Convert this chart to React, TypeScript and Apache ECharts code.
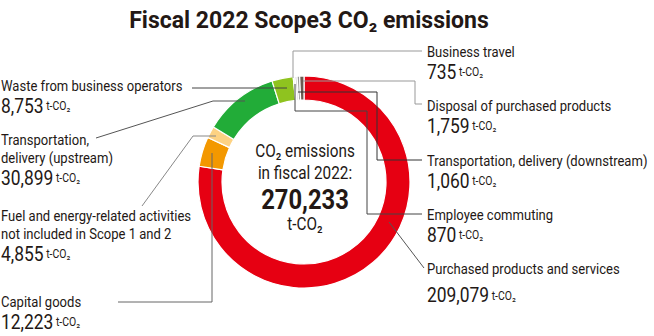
import React, { useEffect, useRef } from "react";
import * as echarts from "echarts";

const titleText = "Fiscal 2022 Scope3 CO₂ emissions";
const unitText = "t-CO₂";
const categories = [
  "Purchased products and services",
  "Capital goods",
  "Fuel and energy-related activities\nnot included in Scope 1 and 2",
  "Transportation,\ndelivery (upstream)",
  "Waste from business operators",
  "Business travel",
  "Employee commuting",
  "Transportation, delivery (downstream)",
  "Disposal of purchased products",
];
const values = [209079, 12223, 4855, 30899, 8753, 735, 870, 1060, 1759];
const colors = ["#e60012", "#f39800", "#fdd283", "#22ac38", "#8fc31f", "#eeeeee", "#d0d0d0", "#9a9a9a", "#6b5a50"];
const centerLines = ["CO₂ emissions", "in fiscal 2022:"];

// label top-left positions (layout)
const labelPos: [number, number][] = [
  [427, 260],
  [1, 293],
  [1, 207],
  [1, 131],
  [1, 77],
  [427, 43],
  [427, 206],
  [427, 152],
  [427, 97],
];
const connectors: { pts: number[][]; c: string }[] = [
  { pts: [[389, 222], [424, 268]], c: "#555" },
  { pts: [[118, 302], [212, 302], [212, 153]], c: "#666" },
  { pts: [[142, 206], [193, 136], [216, 136]], c: "#888" },
  { pts: [[96, 138], [213, 101], [245, 101]], c: "#555" },
  { pts: [[192, 88], [287, 88]], c: "#444" },
  { pts: [[422, 51], [293, 51], [293, 78]], c: "#999" },
  { pts: [[295, 84], [295, 111], [367, 111], [367, 214], [422, 214]], c: "#444" },
  { pts: [[298, 92], [377, 92], [377, 160], [422, 160]], c: "#333" },
  { pts: [[303, 81], [415, 81], [415, 104], [422, 104]], c: "#999" },
];

const FONT = "Roboto, sans-serif";
const TXT = "#231815";
const SX = 0.87;

export default function App() {
  const ref = useRef<HTMLDivElement>(null);
  useEffect(() => {
    document.body.style.margin = "0";
    const chart = echarts.init(ref.current!, null, { renderer: "svg" });
    const total = values.reduce((a, b) => a + b, 0);
    const fmt = (v: number) => v.toLocaleString("en-US");
    const rich = {
      n: { fontFamily: FONT, fontSize: 15, lineHeight: 18, fill: TXT, color: TXT },
      v: { fontFamily: FONT, fontSize: 20, lineHeight: 23, fill: TXT, color: TXT },
      v2: { fontFamily: FONT, fontSize: 20, lineHeight: 36, fill: TXT, color: TXT },
      u: { fontFamily: FONT, fontSize: 12, fill: TXT, color: TXT },
    };
    chart.setOption({
      animation: false,
      title: {
        text: titleText,
        left: 304,
        textAlign: "center",
        top: 4,
        textStyle: { fontFamily: FONT, fontSize: 23, fontWeight: "bold", color: TXT },
      },
      series: [
        {
          type: "pie",
          center: [304, 182],
          radius: [82, 106],
          startAngle: 90,
          clockwise: true,
          avoidLabelOverlap: false,
          itemStyle: { borderColor: "#fff", borderWidth: 1.2 },
          data: categories.map((n, i) => ({ name: n, value: values[i], itemStyle: { color: colors[i] } })),
          label: { show: false },
          labelLine: { show: false },
        },
      ],
      graphic: [
        ...connectors.map((c) => ({
          type: "polyline",
          z: 100,
          shape: { points: c.pts },
          style: { stroke: c.c, lineWidth: 1, fill: null },
        })),
        ...categories.map((name, i) => {
          const lines = name.split("\n").map((l) => `{n|${l}}`).join("\n");
          const vs = i === 0 ? "v2" : "v";
          return {
            type: "text",
            x: labelPos[i][0],
            y: labelPos[i][1],
            scaleX: SX,
            z: 100,
            style: {
              text: `${lines}\n{${vs}|${fmt(values[i])}}{u| ${unitText}}`,
              rich,
              fontFamily: FONT,
              fill: TXT,
              align: "left",
              verticalAlign: "top",
            },
          };
        }),
        ...centerLines.map((t, i) => ({
          type: "text",
          x: 305,
          y: 151 + i * 22,
          z: 100,
          scaleX: 0.85,
          style: { text: t, fontFamily: FONT, fontSize: 18, fill: TXT, align: "center", verticalAlign: "middle" },
        })),
        {
          type: "text",
          x: 305,
          y: 199,
          z: 100,
          scaleX: 0.85,
          style: { text: fmt(total), fontFamily: FONT, fontSize: 28, fontWeight: "bold", fill: TXT, align: "center", verticalAlign: "middle" },
        },
        {
          type: "text",
          x: 305,
          y: 224,
          z: 100,
          scaleX: 0.85,
          style: { text: unitText, fontFamily: FONT, fontSize: 18, fill: TXT, align: "center", verticalAlign: "middle" },
        },
      ],
    });
    return () => chart.dispose();
  }, []);
  return <div ref={ref} style={{ width: 654, height: 336 }} />;
}
